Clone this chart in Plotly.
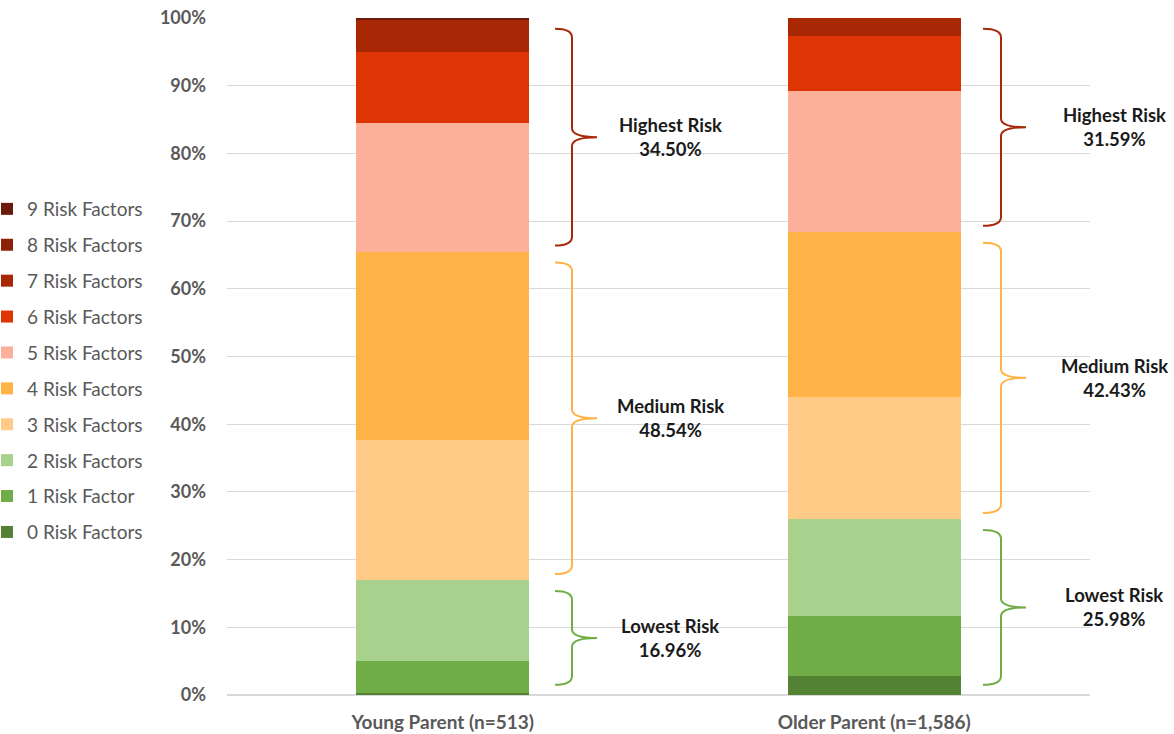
import plotly.graph_objects as go

categories = ["Young Parent (n=513)", "Older Parent (n=1,586)"]
series_names = ["0 Risk Factors", "1 Risk Factor", "2 Risk Factors", "3 Risk Factors",
                "4 Risk Factors", "5 Risk Factors", "6 Risk Factors", "7 Risk Factors",
                "8 Risk Factors", "9 Risk Factors"]
young = [0.25, 4.82, 11.89, 20.71, 27.83, 18.95, 10.55, 4.85, 0.00, 0.15]
older = [2.85, 8.82, 14.31, 18.02, 24.41, 20.79, 8.14, 2.66, 0.00, 0.00]
colors = ["#548235", "#70AD47", "#A9D18E", "#FFCB87", "#FFB347",
          "#FCAF99", "#DF3403", "#A82806", "#8B2106", "#6B1A0C"]

groups = [("Lowest Risk", [0, 1, 2], "#70AD47"),
          ("Medium Risk", [3, 4], "#FFB347"),
          ("Highest Risk", [5, 6, 7, 8, 9], "#A8280A")]
group_pct = {"Young Parent (n=513)": [16.96, 48.54, 34.50],
             "Older Parent (n=1,586)": [25.98, 42.43, 31.59]}

L, R, T, B = 227, 84, 18, 39
W, H = 1174, 734
pw = W - L - R

def px2paper(px):
    return (px - L) / pw

fig = go.Figure()
for i, name in enumerate(series_names):
    fig.add_trace(go.Bar(
        x=categories, y=[young[i], older[i]], name=name,
        marker=dict(color=colors[i], line=dict(width=0)),
        legendgroup=name, legendrank=len(series_names) - i,
    ))

# braces and labels
brace_px = {"Young Parent (n=513)": (555, 572, 597, 670),
            "Older Parent (n=1,586)": (983, 1001, 1026, 1114)}
data = {"Young Parent (n=513)": young, "Older Parent (n=1,586)": older}
shapes = []
annotations = []
for cat in categories:
    vals = data[cat]
    x0p, x1p, x2p, xt = brace_px[cat]
    x0, x1, x2 = px2paper(x0p), px2paper(x1p), px2paper(x2p)
    lower = 0.0
    for gi, (gname, idx, gcol) in enumerate(groups):
        upper = lower + sum(vals[k] for k in idx)
        top = upper - 1.6
        bot = lower + (1.5 if gi == 0 else 0.9)
        mid = (top + bot) / 2
        r = 1.3
        path = (f"M {x0},{top} Q {x1},{top} {x1},{top - r} L {x1},{mid + r} "
                f"Q {x1},{mid} {x2},{mid} Q {x1},{mid} {x1},{mid - r} "
                f"L {x1},{bot + r} Q {x1},{bot} {x0},{bot}")
        shapes.append(dict(type="path", xref="paper", yref="y", path=path,
                           line=dict(color=gcol, width=2)))
        annotations.append(dict(
            x=px2paper(xt), y=mid, xref="paper", yref="y",
            text=f"{gname}<br>{group_pct[cat][gi]:.2f}%", showarrow=False,
            font=dict(family="Lato", size=18.5, color="#1A1A1A", weight="bold"),
            xanchor="center", yanchor="middle", align="center"))
        lower = upper

fig.update_layout(
    barmode="stack", bargap=0.6,
    width=W, height=H,
    margin=dict(l=L, r=R, t=T, b=B, autoexpand=False),
    plot_bgcolor="white", paper_bgcolor="white",
    font=dict(family="Lato", color="#595959"),
    shapes=shapes, annotations=annotations,
    legend=dict(x=px2paper(-13), xanchor="left", y=(H - B - 190) / (H - T - B), yanchor="top",
                traceorder="grouped", tracegroupgap=8.2,
                font=dict(family="Lato", size=19, color="#595959"),
                itemclick=False),
    showlegend=True,
)
fig.update_yaxes(range=[0, 100], dtick=10, ticksuffix="%", showgrid=True,
                 gridcolor="#D9D9D9", gridwidth=1, zeroline=True, zerolinecolor="#D9D9D9",
                 tickfont=dict(family="Lato", size=18, color="#595959", weight="bold"),
                 ticklabelstandoff=20, showline=False, automargin=False)
fig.update_xaxes(tickfont=dict(family="Lato", size=19, color="#595959", weight="bold"),
                 showline=False, ticks="", ticklabelstandoff=14, automargin=False)

fig.write_html("out.html")
